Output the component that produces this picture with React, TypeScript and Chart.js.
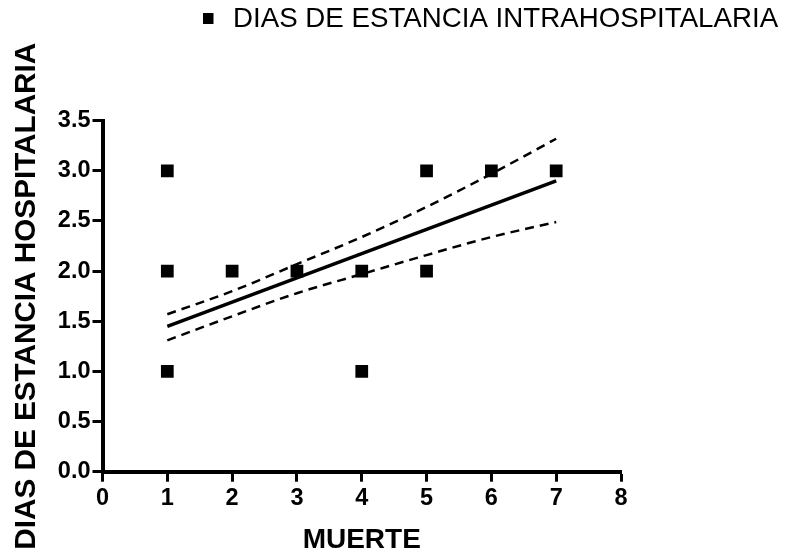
import { useEffect, useRef } from "react";
import { Chart, registerables } from "chart.js";

Chart.register(...registerables);

// ---- data ----
const seriesLabel = "DIAS DE ESTANCIA INTRAHOSPITALARIA";
const xTitle = "MUERTE";
const yTitle = "DIAS DE ESTANCIA HOSPITALARIA";

const muerte = [1, 1, 1, 2, 3, 4, 4, 5, 5, 6, 7];
const dias = [3, 2, 1, 2, 2, 2, 1, 3, 2, 3, 3];

const fitX = [1, 7];
const fitY = [1.45, 2.9];

const bandX = [1, 2, 3, 4, 5, 6, 7];
const bandUpper = [1.57, 1.8, 2.07, 2.34, 2.64, 2.97, 3.32];
const bandLower = [1.31, 1.55, 1.78, 1.97, 2.16, 2.34, 2.49];

const xMin = 0;
const xMax = 8;
const xStep = 1;
const yMin = 0;
const yMax = 3.5;
const yStep = 0.5;

const FONT = "'Liberation Sans', Arial, Helvetica, sans-serif";

const toPts = (xs: number[], ys: number[]) => xs.map((x, i) => ({ x, y: ys[i] }));

export default function App() {
  const ref = useRef<HTMLCanvasElement>(null);

  useEffect(() => {
    if (!ref.current) return;
    Chart.defaults.font.family = FONT;
    Chart.defaults.color = "#000";

    const legendPlugin = {
      id: "topLegend",
      afterDraw(chart: any) {
        const ctx = chart.ctx;
        const label = chart.data.datasets[0].label;
        ctx.save();
        ctx.fillStyle = "#000";
        ctx.fillRect(203, 13, 10.5, 11);
        ctx.font = `27.7px ${FONT}`;
        ctx.textBaseline = "middle";
        ctx.textAlign = "left";
        ctx.fillText(label, 233, 19);
        ctx.restore();
      },
    };

    const chart = new Chart(ref.current, {
      type: "scatter",
      data: {
        datasets: [
          {
            label: seriesLabel,
            data: toPts(muerte, dias),
            pointStyle: "rect",
            pointRadius: 9,
            pointHoverRadius: 9,
            backgroundColor: "#000",
            borderColor: "#000",
            borderWidth: 0,
            showLine: false,
            order: 0,
          },
          {
            label: "fit",
            data: toPts(fitX, fitY),
            showLine: true,
            pointRadius: 0,
            borderColor: "#000",
            borderWidth: 3.5,
            order: 1,
          },
          {
            label: "upper",
            data: toPts(bandX, bandUpper),
            showLine: true,
            pointRadius: 0,
            borderColor: "#000",
            borderWidth: 2.5,
            borderDash: [9, 6],
            cubicInterpolationMode: "monotone",
            order: 2,
          },
          {
            label: "lower",
            data: toPts(bandX, bandLower),
            showLine: true,
            pointRadius: 0,
            borderColor: "#000",
            borderWidth: 2.5,
            borderDash: [9, 6],
            cubicInterpolationMode: "monotone",
            order: 3,
          },
        ],
      },
      options: {
        responsive: false,
        animation: false,
        devicePixelRatio: 1,
        layout: { padding: { top: 120.7, right: 169, left: 0, bottom: 0 } },
        plugins: {
          legend: { display: false },
          tooltip: { enabled: false },
        },
        scales: {
          x: {
            type: "linear",
            min: xMin,
            max: xMax,
            afterFit: (s: any) => {
              s.height = 82.3;
            },
            ticks: {
              stepSize: xStep,
              color: "#000",
              padding: 3,
              font: { size: 23.5, weight: "bold", family: FONT },
            },
            grid: {
              display: true,
              drawOnChartArea: false,
              drawTicks: true,
              tickLength: 10,
              tickWidth: 3,
              tickColor: "#000",
              color: "#000",
            },
            border: { display: true, color: "#000", width: 4 },
            title: {
              display: true,
              text: xTitle,
              color: "#000",
              font: { size: 28, weight: "bold", family: FONT, lineHeight: 1 },
              padding: { top: 0, bottom: 0 },
            },
          },
          y: {
            type: "linear",
            min: yMin,
            max: yMax,
            afterFit: (s: any) => {
              s.width = 102.5;
            },
            ticks: {
              stepSize: yStep,
              color: "#000",
              padding: 2,
              font: { size: 23.5, weight: "bold", family: FONT },
              callback: (v: any) => Number(v).toFixed(1),
            },
            grid: {
              display: true,
              drawOnChartArea: false,
              drawTicks: true,
              tickLength: 10,
              tickWidth: 3,
              tickColor: "#000",
              color: "#000",
            },
            border: { display: true, color: "#000", width: 4 },
            title: {
              display: true,
              text: yTitle,
              color: "#000",
              font: { size: 29.7, weight: "bold", family: FONT, lineHeight: 1 },
              padding: { top: 12, bottom: 0 },
            },
          },
        },
      },
      plugins: [legendPlugin],
    } as any);

    return () => chart.destroy();
  }, []);

  return (
    <div style={{ position: "absolute", left: 0, top: 0, width: 790, height: 554, background: "#fff" }}>
      <canvas ref={ref} width={790} height={554} style={{ width: 790, height: 554, display: "block" }} />
    </div>
  );
}
